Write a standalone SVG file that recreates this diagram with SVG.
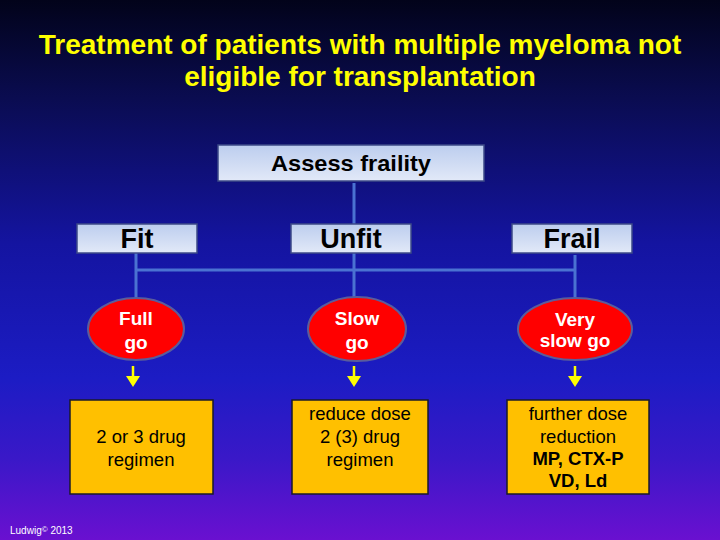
<svg xmlns="http://www.w3.org/2000/svg" width="720" height="540" viewBox="0 0 720 540">
<defs>
<linearGradient id="bg" x1="0" y1="0" x2="0" y2="1">
<stop offset="0" stop-color="#02031a"/>
<stop offset="0.18" stop-color="#0a0c50"/>
<stop offset="0.45" stop-color="#1414a0"/>
<stop offset="0.7" stop-color="#1c1cc4"/>
<stop offset="0.85" stop-color="#3a18c8"/>
<stop offset="1" stop-color="#6a10d0"/>
</linearGradient>
<linearGradient id="boxg" x1="0" y1="0" x2="0" y2="1">
<stop offset="0" stop-color="#bccdee"/>
<stop offset="1" stop-color="#e2e9f8"/>
</linearGradient>
</defs>
<style>
.title{font-family:"Liberation Sans",Arial,sans-serif;font-weight:bold;font-size:28px;fill:#ffff00;text-anchor:middle}
.hdr{fill:url(#boxg);stroke:#3c4a88;stroke-width:1.5}
.hdrt{font-family:"Liberation Sans",Arial,sans-serif;font-weight:bold;fill:#000;text-anchor:middle}
.ell{fill:#ff0000;stroke:#5a5c9c;stroke-width:2}
.ellt{font-family:"Liberation Sans",Arial,sans-serif;font-weight:bold;font-size:19px;fill:#fff;text-anchor:middle}
.box{fill:#ffc000;stroke:#1a1a2a;stroke-width:1.5}
.boxt{font-family:"Liberation Sans",Arial,sans-serif;font-size:18.5px;fill:#000;text-anchor:middle}
.ln{stroke:#4a72d2;stroke-width:3;fill:none}
.ya{stroke:#ffff00;stroke-width:2.5;fill:none}
.yah{fill:#ffff00}
</style>
<rect x="0" y="0" width="720" height="540" fill="url(#bg)"/>
<text class="title" x="360" y="54">Treatment of patients with multiple myeloma not</text>
<text class="title" x="360" y="86">eligible for transplantation</text>

<g id="connectors">
<path class="ln" d="M354 183 V224 M354 253 V297"/>
<path class="ln" d="M136 253 V298 M136 270 H575 M575 255 V298"/>
<line class="ya" x1="133" y1="366" x2="133" y2="378"/>
<polygon class="yah" points="126,376 140,376 133,387"/>
<line class="ya" x1="354" y1="366" x2="354" y2="378"/>
<polygon class="yah" points="347,376 361,376 354,387"/>
<line class="ya" x1="575" y1="366" x2="575" y2="378"/>
<polygon class="yah" points="568,376 582,376 575,387"/>
</g>

<g id="assess">
<rect class="hdr" x="218" y="145" width="266" height="36"/>
<text class="hdrt" x="351" y="171" font-size="22" textLength="160" lengthAdjust="spacingAndGlyphs">Assess fraility</text>
</g>
<g id="fit">
<rect class="hdr" x="77" y="224" width="120" height="29"/>
<text class="hdrt" x="137" y="248" font-size="27">Fit</text>
</g>
<g id="unfit">
<rect class="hdr" x="291" y="224" width="120" height="29"/>
<text class="hdrt" x="351" y="248" font-size="27">Unfit</text>
</g>
<g id="frail">
<rect class="hdr" x="512" y="224" width="120" height="29"/>
<text class="hdrt" x="572" y="248" font-size="27">Frail</text>
</g>

<g id="fullgo">
<ellipse class="ell" cx="136" cy="329" rx="48" ry="31"/>
<text class="ellt" x="136" y="325">Full</text>
<text class="ellt" x="136" y="349">go</text>
</g>
<g id="slowgo">
<ellipse class="ell" cx="357" cy="329" rx="49" ry="32"/>
<text class="ellt" x="357" y="325">Slow</text>
<text class="ellt" x="357" y="349">go</text>
</g>
<g id="veryslowgo">
<ellipse class="ell" cx="575" cy="329" rx="57" ry="31"/>
<text class="ellt" x="575" y="326" font-size="16">Very</text>
<text class="ellt" x="575" y="347" font-size="16">slow go</text>
</g>

<g id="box1">
<rect class="box" x="70" y="400" width="143" height="94"/>
<text class="boxt" x="141" y="443">2 or 3 drug</text>
<text class="boxt" x="141" y="466">regimen</text>
</g>
<g id="box2">
<rect class="box" x="292" y="400" width="136" height="94"/>
<text class="boxt" x="360" y="420">reduce dose</text>
<text class="boxt" x="360" y="443">2 (3) drug</text>
<text class="boxt" x="360" y="466">regimen</text>
</g>
<g id="box3">
<rect class="box" x="507" y="400" width="142" height="94"/>
<text class="boxt" x="578" y="420">further dose</text>
<text class="boxt" x="578" y="443">reduction</text>
<text class="boxt" x="578" y="465" font-weight="bold" font-size="17">MP, CTX-P</text>
<text class="boxt" x="578" y="487" font-weight="bold" font-size="17">VD, Ld</text>
</g>

<text x="10" y="534" font-family="'Liberation Sans',Arial,sans-serif" font-size="10" fill="#ffffff">Ludwig<tspan font-size="8" dy="-2">©</tspan><tspan dy="2"> 2013</tspan></text>
</svg>
